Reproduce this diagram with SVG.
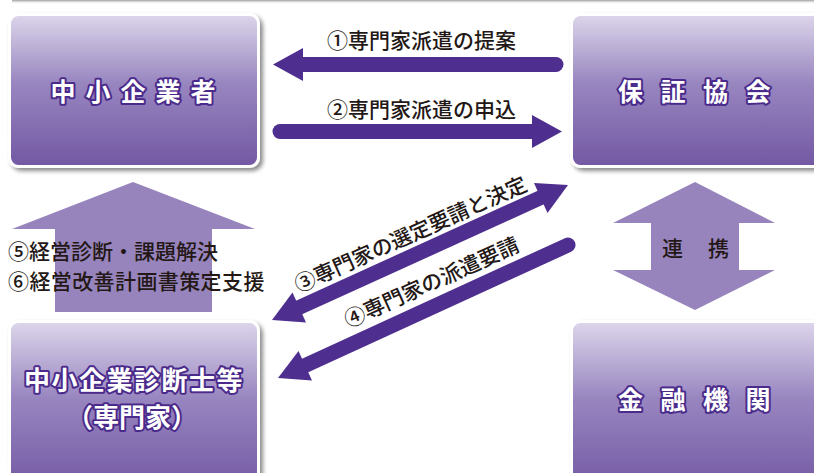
<svg xmlns="http://www.w3.org/2000/svg" width="814" height="473" viewBox="0 0 814 473">
<style>
.box{fill:url(#g);stroke:#fff;stroke-width:3;filter:url(#sh)}
.bt{font-family:"Noto Sans CJK JP","Noto Sans",sans-serif;font-weight:700;fill:#fff;stroke:#4a2a8a;stroke-width:4;stroke-linejoin:round;paint-order:stroke;text-anchor:middle;dominant-baseline:central}
.lb{font-family:"Noto Sans CJK JP","Noto Sans",sans-serif;font-weight:500;fill:#231815;font-size:21px;dominant-baseline:central}
.ar{stroke:#4e2e8e;stroke-width:15;stroke-linecap:round;fill:none}
.ah{fill:#4e2e8e}
.big{fill:#9784bd}
</style>
<defs>
<linearGradient id="g" x1="0" y1="0" x2="0" y2="1">
<stop offset="0" stop-color="#ddd6eb"/>
<stop offset="0.45" stop-color="#9886c0"/>
<stop offset="1" stop-color="#7258a3"/>
</linearGradient>
<linearGradient id="tg" x1="0" y1="0" x2="0" y2="1">
<stop offset="0" stop-color="#9a9a9a"/>
<stop offset="1" stop-color="#ffffff" stop-opacity="0"/>
</linearGradient>
<filter id="sh" x="-10%" y="-10%" width="125%" height="125%">
<feDropShadow dx="3" dy="3" stdDeviation="2" flood-color="#000" flood-opacity="0.45"/>
</filter>
</defs>
<rect width="814" height="473" fill="#fff"/>
<rect x="12" y="0" width="802" height="4" fill="url(#tg)"/>

<g id="arrows-big">
<polygon class="big" points="133,182 255,229 212,229 212,312 55,312 55,229 12,229"/>
<polygon class="big" points="695,182 775,223 739,223 739,270 775,270 695,310 613,270 651,270 651,223 613,223"/>
</g>

<g id="n1">
<rect class="box" x="9.5" y="14.5" width="249" height="152" rx="9"/>
<text class="bt" x="138" y="90" font-size="25" letter-spacing="10">中小企業者</text>
</g>
<g id="n2">
<rect class="box" x="571.5" y="14.5" width="260" height="152" rx="9"/>
<text class="bt" x="703" y="90" font-size="25" letter-spacing="17.5">保証協会</text>
</g>
<g id="n3">
<rect class="box" x="9.5" y="321.5" width="249" height="170" rx="9"/>
<text class="bt" x="134" y="378" font-size="26" letter-spacing="1.5">中小企業診断士等</text>
<text class="bt" x="132" y="415" font-size="26">（専門家）</text>
</g>
<g id="n4">
<rect class="box" x="571.5" y="321.5" width="260" height="170" rx="9"/>
<text class="bt" x="703" y="398" font-size="25" letter-spacing="17.5">金融機関</text>
</g>

<g id="connectors">
<line class="ar" x1="300" y1="64.5" x2="556" y2="64.5"/>
<polygon class="ah" points="273,64.5 303,48 303,81"/>
<line class="ar" x1="280" y1="131.5" x2="535" y2="131.5"/>
<polygon class="ah" points="562,131.5 532,115 532,148"/>
<line x1="298" y1="308" x2="542" y2="197" stroke="#4e2e8e" stroke-width="15"/>
<polygon class="ah" points="568,185 547.5,213 534,183"/>
<polygon class="ah" points="272,320 292.5,292.5 306,322.5"/>
<line class="ar" x1="303" y1="366.5" x2="568" y2="245"/>
<polygon class="ah" points="278,378 298.5,351 312,380.5"/>
</g>

<g id="labels">
<text class="lb" x="327" y="39">①専門家派遣の提案</text>
<text class="lb" x="327" y="108">②専門家派遣の申込</text>
<text class="lb" x="8" y="250" font-size="20.5">⑤経営診断・課題解決</text>
<text class="lb" x="8" y="279.5" font-size="20.5" letter-spacing="0.4">⑥経営改善計画書策定支援</text>
<text class="lb" x="662" y="247" font-size="20" letter-spacing="25">連携</text>
<text class="lb" font-size="22" text-anchor="middle" transform="translate(410,233) rotate(-24.2)">③専門家の選定要請と決定</text>
<text class="lb" font-size="22.5" text-anchor="middle" transform="translate(431,281) rotate(-24.2)">④専門家の派遣要請</text>
</g>
</svg>
